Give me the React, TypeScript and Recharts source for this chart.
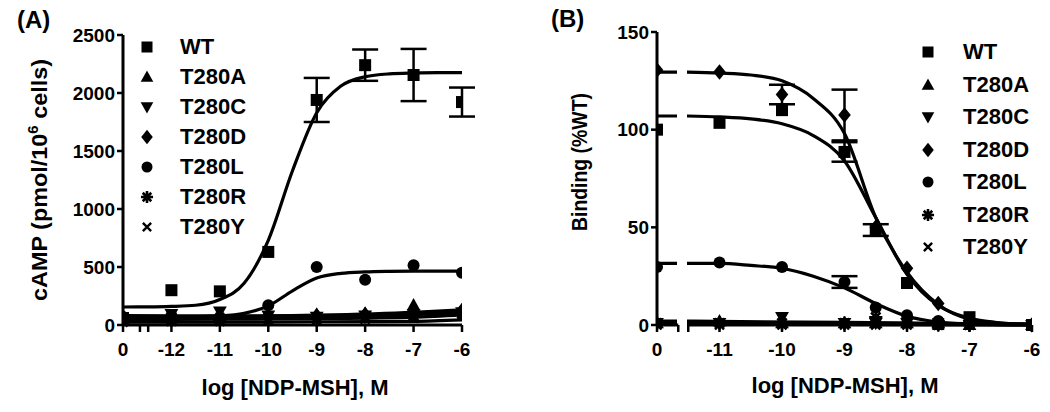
import React from 'react';
import { ComposedChart, Line, Scatter, XAxis, YAxis, ErrorBar, Legend, ReferenceLine } from 'recharts';

const FONT = '"Liberation Sans", Arial, Helvetica, sans-serif';

const SERIES = ['WT', 'T280A', 'T280C', 'T280D', 'T280L', 'T280R', 'T280Y'];
const MARKERS = ['square', 'triangle', 'triangleDown', 'diamond', 'circle', 'asterisk', 'cross'];

// (A) cAMP accumulation. The "0" dose is drawn in the -13 slot, left of the axis break.
const A_DOSE = [-13, -12, -11, -10, -9, -8, -7, -6];
const A_WT = [60, 300, 290, 630, 1940, 2240, 2155, 1922];
const A_WT_ERR = [null, null, null, null, 190, 135, 225, 125];
const A_T280A = [50, 70, 75, 90, 90, 100, 170, 130];
const A_T280C = [40, 95, 115, 80, 70, 80, 95, 110];
const A_T280D = [70, 60, 65, 75, 80, 90, 105, 125];
const A_T280L = [70, 80, 70, 170, 500, 390, 515, 450];
const A_T280R = [45, 45, 50, 55, 60, 70, 80, 100];
const A_T280Y = [25, 30, 30, 40, 40, 50, 60, 80];

// fitted curves
const A_FIT_X = [-13, -12.5, -12, -11.5, -11, -10.5, -10, -9.5, -9, -8.5, -8, -7.5, -7, -6.5, -6];
const A_FIT_WT = [155, 156, 160, 170, 220, 360, 730, 1330, 1830, 2060, 2140, 2165, 2172, 2175, 2175];
const A_FIT_T280L = [70, 70, 70, 72, 78, 100, 165, 295, 405, 445, 458, 463, 465, 465, 465];
const A_FLAT_X = [-13, -11, -9, -7, -6];
const A_FIT_T280A = [60, 70, 85, 110, 130];
const A_FIT_T280C = [80, 78, 78, 92, 105];
const A_FIT_T280D = [70, 70, 75, 92, 120];
const A_FIT_T280R = [45, 50, 55, 68, 88];
const A_FIT_T280Y = [25, 25, 28, 32, 45];

const A_Y_TICKS = [0, 500, 1000, 1500, 2000, 2500];
const A_X_TICKS = [-13, -12.65, -12.48, -12, -11, -10, -9, -8, -7, -6];

// (B) binding, % of WT. The "0" dose is drawn in the -12 slot.
const B_DOSE = [-12, -11, -10, -9, -8.5, -8, -7.5, -7, -6];
const B_WT = [100, 103.5, 110, 88.6, 48.6, 21.5, 0.5, 4, 0];
const B_WT_ERR = [null, null, null, 5, 3, null, null, null, null];
const B_T280A = [1, 2, 1, 1, 1, 1, 1, 0, 0];
const B_T280C = [1, 1, 4, 1, 1, 1, 0, 0, 0];
const B_T280D = [130.5, 129.5, 118, 107.5, 50, 29, 11, 1, 0];
const B_T280D_ERR = [null, null, 5, 13, null, null, null, null, null];
const B_T280L = [29.7, 32, 29.7, 22, 9, 5, 2, 1, 0];
const B_T280L_ERR = [null, null, null, 3, null, null, null, null, null];
const B_T280R = [1, 1, 1, 1, 4, 1, 0, 0, 0];
const B_T280Y = [0, 0, 0, 0, 0, 0, 0, 0, 0];

const B_FIT_X = [-12, -11.68, -11.6, -11.52, -11, -10.5, -10, -9.5, -9, -8.5, -8, -7.5, -7, -6.5, -6];
const B_FIT_WT = [107, 107, null, 107, 106.5, 105.5, 103, 97, 84, 55, 26, 10, 3.5, 1, 0.3];
const B_FIT_T280D = [129.5, 129.5, null, 129.5, 129, 128, 125, 116, 98, 55, 27, 10.5, 3, 1, 0.3];
const B_FIT_T280L = [31.5, 31.5, null, 31.5, 31.5, 30.5, 29, 25, 19, 11, 4.5, 1.5, 0.5, 0.2, 0];
const B_FLAT_X = [-12, -11.68, -11.6, -11.52, -9, -6];
const B_FIT_T280A = [2, 2, null, 2, 1.3, 0.4];
const B_FIT_T280C = [1.5, 1.5, null, 1.5, 1, 0.3];
const B_FIT_T280R = [1, 1, null, 1, 0.7, 0.2];
const B_FIT_T280Y = [0.5, 0.5, null, 0.5, 0.3, 0];

const B_Y_TICKS = [0, 50, 100, 150];
const B_X_TICKS = [-12, -11.66, -11.5, -11, -10, -9, -8, -7, -6];
const B_AXIS_BREAK = [-11.66, -11.5];

type Pt = { x: number; y: number | null; err: number | null };
const toPts = (xs: number[], ys: (number | null)[], errs?: (number | null)[]): Pt[] =>
  xs.map((x, i) => ({ x, y: ys[i], err: errs ? errs[i] : null }));

const Marker = ({ kind, cx, cy, s }: { kind: string; cx: number; cy: number; s: number }) => {
  switch (kind) {
    case 'square':
      return <rect x={cx - s} y={cy - s} width={2 * s} height={2 * s} fill="#000" />;
    case 'triangle':
      return <path d={`M${cx},${cy - 1.2 * s}L${cx + 1.15 * s},${cy + 0.85 * s}L${cx - 1.15 * s},${cy + 0.85 * s}Z`} fill="#000" />;
    case 'triangleDown':
      return <path d={`M${cx},${cy + 1.2 * s}L${cx + 1.15 * s},${cy - 0.85 * s}L${cx - 1.15 * s},${cy - 0.85 * s}Z`} fill="#000" />;
    case 'diamond':
      return <path d={`M${cx},${cy - 1.3 * s}L${cx + 1.05 * s},${cy}L${cx},${cy + 1.3 * s}L${cx - 1.05 * s},${cy}Z`} fill="#000" />;
    case 'circle':
      return <circle cx={cx} cy={cy} r={s} fill="#000" />;
    case 'asterisk': {
      const r = 1.1 * s;
      const d = r * Math.SQRT1_2;
      return (
        <path
          d={`M${cx - r},${cy}H${cx + r}M${cx},${cy - r}V${cy + r}M${cx - d},${cy - d}L${cx + d},${cy + d}M${cx - d},${cy + d}L${cx + d},${cy - d}`}
          stroke="#000"
          strokeWidth={2.6}
        />
      );
    }
    default: {
      const r = 0.75 * s;
      return (
        <path
          d={`M${cx - r},${cy - r}L${cx + r},${cy + r}M${cx - r},${cy + r}L${cx + r},${cy - r}`}
          stroke="#000"
          strokeWidth={2.4}
        />
      );
    }
  }
};

const LegendBox = ({ rowH, gap }: { rowH: number; gap: number }) => (
  <div style={{ fontFamily: FONT, fontWeight: 700, fontSize: 22, color: '#000' }}>
    {SERIES.map((name, i) => (
      <div key={name} style={{ display: 'flex', alignItems: 'center', height: rowH }}>
        <svg width={20} height={20} style={{ flex: 'none' }}>
          <Marker kind={MARKERS[i]} cx={10} cy={10} s={5.5} />
        </svg>
        <span style={{ marginLeft: gap, lineHeight: 1 }}>{name}</span>
      </div>
    ))}
  </div>
);

type PanelProps = {
  left: number;
  width: number;
  margin: { top: number; right: number; bottom: number; left: number };
  yDomain: [number, number];
  yTicks: number[];
  xDomain: [number, number];
  xTicks: number[];
  zeroSlot: number;
  points: Pt[][];
  fits: { x: number; y: number | null }[][];
  yTitle: (p: any) => React.ReactElement;
  xTitle: (p: any) => React.ReactElement;
  legend: { left: number; top: number; rowH: number; gap: number };
  axisBreak?: number[];
};

const Panel = (p: PanelProps) => (
  <div style={{ position: 'absolute', left: p.left, top: 0 }}>
    <ComposedChart width={p.width} height={412} margin={p.margin}>
      <XAxis
        type="number"
        dataKey="x"
        domain={p.xDomain}
        ticks={p.xTicks}
        interval={0}
        allowDataOverflow
        tickFormatter={(v: number) => (v === p.zeroSlot ? '0' : Number.isInteger(v) ? String(v) : '')}
        height={60}
        tickSize={7}
        tickMargin={11}
        axisLine={p.axisBreak ? false : { stroke: '#000', strokeWidth: 3 }}
        tickLine={{ stroke: '#000', strokeWidth: 2.5 }}
        tick={{ fill: '#000', fontSize: 19, fontWeight: 700, fontFamily: FONT }}
        label={p.xTitle}
      />
      <YAxis
        type="number"
        dataKey="y"
        domain={p.yDomain}
        ticks={p.yTicks}
        interval={0}
        width={60}
        tickSize={6}
        tickMargin={2}
        axisLine={{ stroke: '#000', strokeWidth: 3 }}
        tickLine={{ stroke: '#000', strokeWidth: 2.5 }}
        tick={{ fill: '#000', fontSize: 19, fontWeight: 700, fontFamily: FONT }}
        label={p.yTitle}
      />
      {p.axisBreak && (
        <ReferenceLine
          segment={[{ x: p.xDomain[0], y: p.yDomain[0] }, { x: p.axisBreak[0], y: p.yDomain[0] }]}
          stroke="#000"
          strokeWidth={3}
          ifOverflow="visible"
        />
      )}
      {p.axisBreak && (
        <ReferenceLine
          segment={[{ x: p.axisBreak[1], y: p.yDomain[0] }, { x: p.xDomain[1], y: p.yDomain[0] }]}
          stroke="#000"
          strokeWidth={3}
          ifOverflow="visible"
        />
      )}
      {p.fits.map((d, i) => (
        <Line
          key={`fit-${i}`}
          data={d}
          dataKey="y"
          type="monotone"
          stroke="#000"
          strokeWidth={3.2}
          dot={false}
          activeDot={false}
          legendType="none"
          isAnimationActive={false}
        />
      ))}
      {p.points.map((d, i) => (
        <Scatter
          key={SERIES[i]}
          name={SERIES[i]}
          data={d}
          dataKey="y"
          fill="#000"
          isAnimationActive={false}
          shape={(sp: any) => <Marker kind={MARKERS[i]} cx={sp.cx} cy={sp.cy} s={6} />}
        >
          <ErrorBar dataKey="err" direction="y" width={13} stroke="#000" strokeWidth={2.5} />
        </Scatter>
      ))}
      <Legend
        layout="vertical"
        align="center"
        verticalAlign="middle"
        wrapperStyle={{ left: p.legend.left, top: p.legend.top, width: 140 }}
        content={() => <LegendBox rowH={p.legend.rowH} gap={p.legend.gap} />}
      />
    </ComposedChart>
  </div>
);

const titleStyle = { fontWeight: 700, fill: '#000', fontFamily: FONT };

const App = () => {
  const aPoints = [
    toPts(A_DOSE, A_WT, A_WT_ERR),
    toPts(A_DOSE, A_T280A),
    toPts(A_DOSE, A_T280C),
    toPts(A_DOSE, A_T280D),
    toPts(A_DOSE, A_T280L),
    toPts(A_DOSE, A_T280R),
    toPts(A_DOSE, A_T280Y),
  ];
  const aFits = [
    toPts(A_FLAT_X, A_FIT_T280A),
    toPts(A_FLAT_X, A_FIT_T280C),
    toPts(A_FLAT_X, A_FIT_T280D),
    toPts(A_FLAT_X, A_FIT_T280R),
    toPts(A_FLAT_X, A_FIT_T280Y),
    toPts(A_FIT_X, A_FIT_T280L),
    toPts(A_FIT_X, A_FIT_WT),
  ];
  const bPoints = [
    toPts(B_DOSE, B_WT, B_WT_ERR),
    toPts(B_DOSE, B_T280A),
    toPts(B_DOSE, B_T280C),
    toPts(B_DOSE, B_T280D, B_T280D_ERR),
    toPts(B_DOSE, B_T280L, B_T280L_ERR),
    toPts(B_DOSE, B_T280R),
    toPts(B_DOSE, B_T280Y),
  ];
  const bFits = [
    toPts(B_FLAT_X, B_FIT_T280A),
    toPts(B_FLAT_X, B_FIT_T280C),
    toPts(B_FLAT_X, B_FIT_T280R),
    toPts(B_FLAT_X, B_FIT_T280Y),
    toPts(B_FIT_X, B_FIT_T280L),
    toPts(B_FIT_X, B_FIT_WT),
    toPts(B_FIT_X, B_FIT_T280D),
  ];

  return (
    <div style={{ position: 'absolute', left: 0, top: 0, width: 1050, height: 412, background: '#fff', overflow: 'hidden' }}>
      <div style={{ position: 'absolute', left: 17, top: 6, fontFamily: FONT, fontWeight: 700, fontSize: 24 }}>(A)</div>
      <div style={{ position: 'absolute', left: 551, top: 5, fontFamily: FONT, fontWeight: 700, fontSize: 24 }}>(B)</div>
      <Panel
        left={0}
        width={520}
        margin={{ top: 35, right: 58, bottom: 27, left: 63 }}
        yDomain={[0, 2500]}
        yTicks={A_Y_TICKS}
        xDomain={[-13, -6]}
        xTicks={A_X_TICKS}
        zeroSlot={-13}
        points={aPoints}
        fits={aFits}
        yTitle={() => (
          <text
            x={47}
            y={180}
            transform="rotate(-90, 47, 180)"
            textAnchor="middle"
            fontSize={22}
            textLength={242}
            lengthAdjust="spacingAndGlyphs"
            {...titleStyle}
          >
            cAMP (pmol/10<tspan dy={-9} fontSize={14}>6</tspan>
            <tspan dy={9}> cells)</tspan>
          </text>
        )}
        xTitle={() => (
          <text x={295} y={395} textAnchor="middle" fontSize={22} {...titleStyle}>
            log [NDP-MSH], M
          </text>
        )}
        legend={{ left: 137, top: 32, rowH: 30, gap: 23 }}
      />
      <Panel
        left={520}
        width={530}
        margin={{ top: 32, right: 18, bottom: 27, left: 77 }}
        yDomain={[0, 150]}
        yTicks={B_Y_TICKS}
        xDomain={[-12, -6]}
        xTicks={B_X_TICKS}
        zeroSlot={-12}
        points={bPoints}
        fits={bFits}
        axisBreak={B_AXIS_BREAK}
        yTitle={() => (
          <text
            x={67}
            y={162}
            transform="rotate(-90, 67, 162)"
            textAnchor="middle"
            fontSize={22}
            textLength={138}
            lengthAdjust="spacingAndGlyphs"
            {...titleStyle}
          >
            Binding (%WT)
          </text>
        )}
        xTitle={() => (
          <text x={325} y={393} textAnchor="middle" fontSize={22} {...titleStyle}>
            log [NDP-MSH], M
          </text>
        )}
        legend={{ left: 398, top: 36, rowH: 32.5, gap: 25 }}
      />
    </div>
  );
};

export default App;
